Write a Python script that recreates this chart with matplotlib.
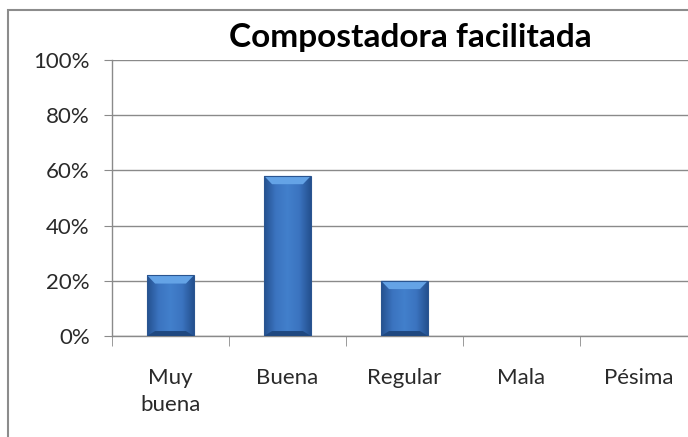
import numpy as np
import matplotlib
matplotlib.use("Agg")
import matplotlib.pyplot as plt
from matplotlib.patches import Rectangle, Polygon
from matplotlib.colors import LinearSegmentedColormap

categories = ["Muy\nbuena", "Buena", "Regular", "Mala", "Pésima"]
values = [22, 58, 20, 0, 0]
yticks = [0, 20, 40, 60, 80, 100]
title = "Compostadora facilitada"

plt.rcParams['font.family'] = ['Lato', 'DejaVu Sans']

W, H = 688, 437
fig = plt.figure(figsize=(W / 100, H / 100), dpi=100)

# outer chart border
fig.patches.append(Rectangle((8 / W, -0.1), 1.2, (H - 10) / H + 0.1, transform=fig.transFigure,
                             fill=False, edgecolor="#8c8c8c", linewidth=1.5))

left, right = 112, 688
bottom, top = 336, 60
cat_w = 117
ax = fig.add_axes([left / W, (H - bottom) / H, (right - left) / W, (bottom - top) / H])

grid_c = "#8a8a8a"
for s in ["top", "right"]:
    ax.spines[s].set_visible(False)
for s in ["left", "bottom"]:
    ax.spines[s].set_color(grid_c)
    ax.spines[s].set_linewidth(1.0)

ax.set_yticks(yticks)
ax.set_yticklabels([f"{v}%" for v in yticks], fontsize=16, color="#2a2a2a")
ax.yaxis.grid(True, color=grid_c, linewidth=1.0)
ax.set_axisbelow(True)
ax.tick_params(axis="y", length=6, color=grid_c, pad=10)

x = np.arange(len(categories))
ax.set_xticks(x)
ax.set_xticklabels(categories, fontsize=16, color="#2a2a2a", linespacing=1.45, va="top")
ax.tick_params(axis="x", which="major", length=0, pad=23)
ax.set_xticks(np.arange(len(categories)) - 0.5, minor=True)
ax.tick_params(axis="x", which="minor", length=7, color=grid_c)

bars = ax.bar(x, values, width=0.4, color="#3b70b8", edgecolor="none", zorder=3)

cmap = LinearSegmentedColormap.from_list("bev", ["#24508e", "#3b74c0", "#4280cc", "#3b74c0", "#24508e"])
grad = np.linspace(0, 1, 256).reshape(1, -1)
for b in bars:
    h = b.get_height()
    if h <= 0:
        continue
    x0, w = b.get_x(), b.get_width()
    im = ax.imshow(grad, cmap=cmap, extent=[x0, x0 + w, 0, h], aspect="auto", zorder=4,
                   interpolation="bicubic")
    im.set_clip_path(b)
    bw = w * 0.17
    bh = 3.0
    poly = Polygon([[x0, h], [x0 + w, h], [x0 + w - bw, h - bh], [x0 + bw, h - bh]],
                   closed=True, facecolor="#64a3e6", edgecolor="none", zorder=5)
    ax.add_patch(poly)
    poly2 = Polygon([[x0, 0], [x0 + w, 0], [x0 + w - bw, bh * 0.6], [x0 + bw, bh * 0.6]],
                    closed=True, facecolor="#1f4880", edgecolor="none", zorder=5)
    ax.add_patch(poly2)
    ax.add_patch(Rectangle((x0, 0), w, h, fill=False, edgecolor="#2a5590", linewidth=0.8, zorder=6))

ax.set_xlim(-0.5, -0.5 + (right - left) / cat_w)
ax.set_ylim(0, 100)

fig.text(410.5 / W, 1 - 47 / H, title, ha="center", va="baseline", fontsize=24, fontweight="bold",
         color="#000000")

fig.savefig("out.png", dpi=100)
